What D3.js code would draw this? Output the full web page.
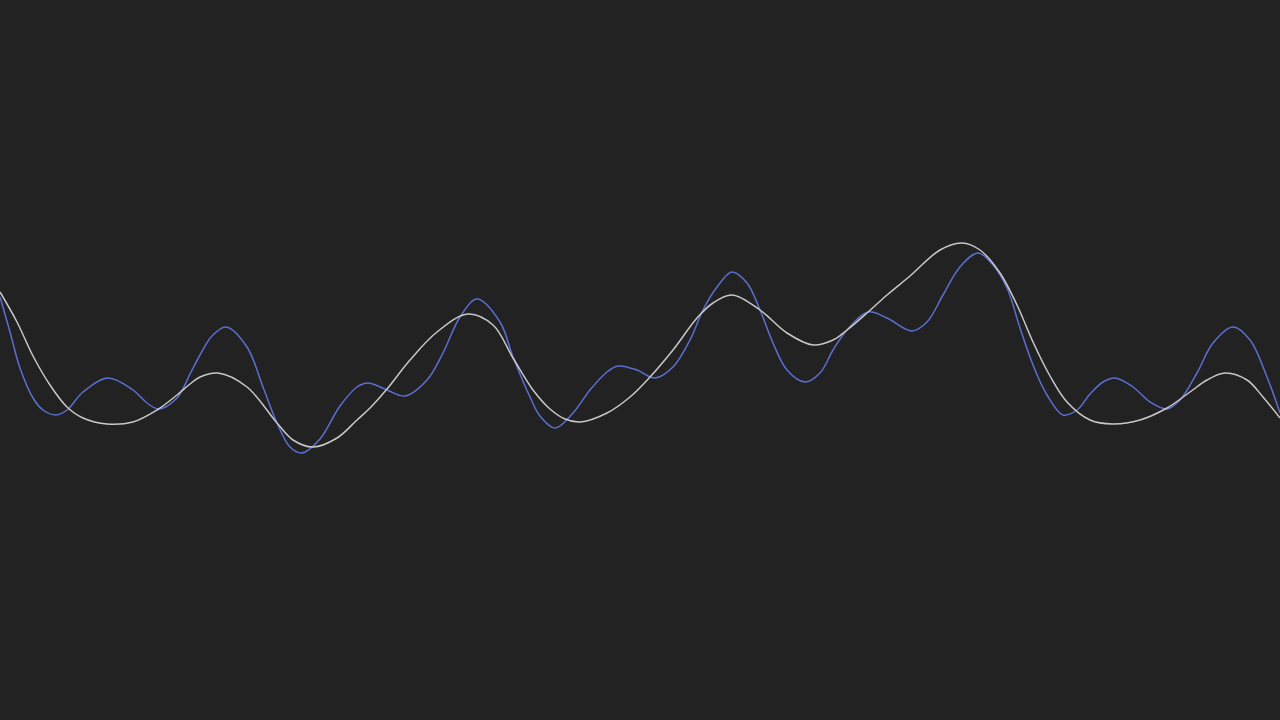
<!DOCTYPE html>
<html>
<head>
<meta charset="utf-8">
<script src="https://cdn.jsdelivr.net/npm/d3@7"></script>
<style>
  html, body { margin: 0; padding: 0; background: #222222; overflow: hidden; }
  svg { display: block; }
</style>
</head>
<body>
<svg id="chart" width="1280" height="720"></svg>
<script>
// Sample positions (x) and values for each series
const blueX = [0,10,20,33,43,56,67,83,108,133,147,159,177,190,200,212,226,247,263,277,290,302,320,340,357,368,387,405,427,443,460,477,500,513,530,540,555,573,590,607,618,637,655,673,690,703,717,732,747,760,773,787,805,820,833,847,868,887,912,927,943,960,978,993,1007,1020,1033,1047,1063,1077,1090,1103,1115,1133,1150,1167,1180,1197,1213,1233,1250,1267,1280];
const blueV = [63,28,-8,-38,-50,-55,-50,-32,-18,-30,-43,-49,-38,-14,5,24,33,13,-27,-63,-87,-93,-79,-46,-27,-23,-30,-36,-20,7,43,61,38,3,-37,-56,-68,-53,-30,-12,-6,-10,-18,-7,20,50,73,88,77,50,17,-10,-22,-13,10,30,48,42,29,38,65,93,107,95,72,32,-5,-35,-55,-50,-34,-22,-18,-27,-42,-49,-40,-13,17,33,20,-17,-53];

const greyX = [0,17,33,50,67,83,107,133,157,177,190,200,218,247,277,293,313,337,357,370,387,410,437,468,493,513,533,550,565,580,607,630,650,673,697,713,732,760,787,813,833,847,867,887,910,940,962,980,1000,1017,1033,1050,1067,1090,1113,1140,1167,1190,1207,1225,1247,1263,1280];
const greyV = [68,38,4,-25,-47,-58,-64,-62,-50,-35,-24,-17,-13,-27,-63,-80,-87,-78,-60,-48,-29,0,28,46,35,2,-30,-49,-59,-62,-53,-37,-17,10,42,57,65,50,27,15,20,30,47,65,84,110,117,110,87,55,18,-16,-42,-60,-64,-60,-48,-32,-20,-13,-20,-37,-58];

const W = 1280, H = 720;
const svg = d3.select('#chart');

const x = d3.scaleLinear().domain([0, 1280]).range([0, W]);
const y = d3.scaleLinear().domain([-360, 360]).range([H, 0]);

const line = d3.line()
  .x(d => x(d[0]))
  .y(d => y(d[1]))
  .curve(d3.curveCatmullRom.alpha(0.5));

const greyData = greyX.map((v, i) => [v, greyV[i]]);
const blueData = blueX.map((v, i) => [v, blueV[i]]);

svg.append('path')
  .datum(blueData)
  .attr('d', line)
  .attr('fill', 'none')
  .attr('stroke', '#5b6fd2')
  .attr('stroke-width', 1.5);

svg.append('path')
  .datum(greyData)
  .attr('d', line)
  .attr('fill', 'none')
  .attr('stroke', '#c8c8c8')
  .attr('stroke-width', 1.5);
</script>
</body>
</html>
